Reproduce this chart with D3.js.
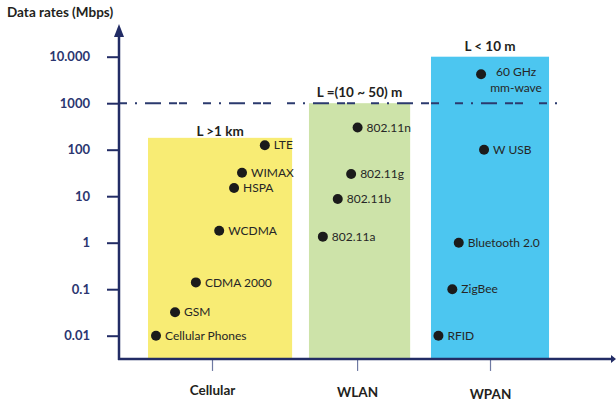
<!DOCTYPE html>
<html>
<head>
<meta charset="utf-8">
<script src="https://cdn.jsdelivr.net/npm/d3@7"></script>
<style>
body { margin: 0; background: #fff; }
svg { display: block; font-family: Lato, "Open Sans", sans-serif; }
</style>
</head>
<body>
<div class="chart-container"></div>
<script>
// data
const categories = ['Cellular', 'WLAN', 'WPAN'];
const rangeLabels = ['L >1 km', 'L =(10 ~ 50) m', 'L < 10 m'];
const barTops = [180, 1000, 10000];

const yTicks = [0.01, 0.1, 1, 10, 100, 1000, 10000];
const yTickLabels = ['0.01', '0.1', '1', '10', '100', '1000', '10.000'];

const cellularTech = ['Cellular Phones', 'GSM', 'CDMA 2000', 'WCDMA', 'HSPA', 'WIMAX', 'LTE'];
const cellularRates = [0.01, 0.032, 0.14, 1.8, 15, 32, 125];
const wlanTech = ['802.11a', '802.11b', '802.11g', '802.11n'];
const wlanRates = [1.35, 8.7, 30, 300];
const wpanTech = ['RFID', 'ZigBee', 'Bluetooth 2.0', 'W USB', '60 GHz\nmm-wave'];
const wpanRates = [0.01, 0.1, 1, 100, 4200];
const limitRate = 1000;

// layout: horizontal positions in axis units (0..10)
const catX = [1.875, 4.8, 7.48];
const barSpan = [[0.585, 3.49], [3.83, 5.87], [6.29, 8.67]];
const cellularX = [0.746, 1.13, 1.55, 2.02, 2.32, 2.48, 2.94];
const wlanX = [4.11, 4.41, 4.68, 4.81];
const wpanX = [6.44, 6.72, 6.85, 7.36, 7.30];
const titleGap = [2, 6, 6];
const catLabelDy = [0, 2, 4];
const barColors = ['#f8ec74', '#cde3a9', '#4cc6f0'];

const navy = '#222c65';
const totalWidth = 616;
const totalHeight = 400;

const svg = d3.select('.chart-container')
    .append('svg')
    .attr('width', totalWidth)
    .attr('height', totalHeight);

const x = d3.scaleLinear().domain([0, 10]).range([119, 615]);
const y = d3.scaleLog().domain([0.01, 10000]).range([335.7, 56.7]);
const yBase = y(Math.pow(10, -2.5));

// bars
svg.append('g').selectAll('rect')
    .data(categories)
    .enter()
    .append('rect')
    .attr('x', (d, i) => x(barSpan[i][0]))
    .attr('width', (d, i) => x(barSpan[i][1]) - x(barSpan[i][0]))
    .attr('y', (d, i) => y(barTops[i]))
    .attr('height', (d, i) => yBase - y(barTops[i]))
    .attr('fill', (d, i) => barColors[i]);

// range titles above bars
svg.append('g').selectAll('text')
    .data(rangeLabels)
    .enter()
    .append('text')
    .attr('x', (d, i) => (x(barSpan[i][0]) + x(barSpan[i][1])) / 2)
    .attr('y', (d, i) => y(barTops[i]) - titleGap[i])
    .attr('text-anchor', 'middle')
    .attr('font-size', 13.5)
    .attr('font-weight', 700)
    .attr('fill', '#231f20')
    .text(d => d);

// y axis
const yAxis = svg.append('g')
    .attr('transform', 'translate(119,0)')
    .call(d3.axisLeft(y)
        .tickValues(yTicks)
        .tickFormat((d, i) => yTickLabels[i])
        .tickSize(12)
        .tickSizeOuter(0)
        .tickPadding(17));
yAxis.select('.domain').remove();
yAxis.selectAll('.tick line').attr('stroke', navy).attr('stroke-width', 2);
yAxis.selectAll('.tick text')
    .attr('fill', '#2b3670')
    .attr('font-size', 13)
    .attr('font-weight', 700)
    .attr('font-family', 'Lato, sans-serif');

// dash-dot limit line
svg.append('line')
    .attr('x1', 119)
    .attr('x2', 562)
    .attr('y1', y(limitRate))
    .attr('y2', y(limitRate))
    .attr('stroke', '#2b3a6e')
    .attr('stroke-width', 2)
    .attr('stroke-dasharray', '8,8,2,8,16');

// x axis ticks and labels
const xAxis = svg.append('g')
    .attr('transform', `translate(0,${yBase})`)
    .call(d3.axisBottom(x)
        .tickValues(catX)
        .tickFormat((d, i) => categories[i])
        .tickSize(12)
        .tickSizeOuter(0)
        .tickPadding(18));
xAxis.select('.domain').remove();
xAxis.selectAll('.tick line').attr('stroke', '#6f7aa3').attr('stroke-width', 1.2);
xAxis.selectAll('.tick text')
    .attr('dy', (d, i) => 6 + catLabelDy[i])
    .attr('fill', '#231f20')
    .attr('font-size', 13.5)
    .attr('font-weight', 700)
    .attr('font-family', 'Lato, sans-serif');

// axis lines with arrows
svg.append('line')
    .attr('x1', 119).attr('x2', 119)
    .attr('y1', yBase + 1).attr('y2', 34)
    .attr('stroke', navy).attr('stroke-width', 2.5);
svg.append('path')
    .attr('d', `M119,24 L124,37 L114,37 Z`)
    .attr('fill', navy);
svg.append('line')
    .attr('x1', 118).attr('x2', 612)
    .attr('y1', yBase).attr('y2', yBase)
    .attr('stroke', navy).attr('stroke-width', 2.5);
svg.append('path')
    .attr('d', `M616,${yBase} L611,${yBase - 4} L611,${yBase + 4} Z`)
    .attr('fill', navy);

// y axis title
svg.append('text')
    .attr('x', 7)
    .attr('y', 17)
    .attr('font-size', 13.5)
    .attr('font-weight', 700)
    .attr('fill', '#231f20')
    .text('Data rates (Mbps)');

// technology points
const groups = [
    {tech: cellularTech, rates: cellularRates, xs: cellularX},
    {tech: wlanTech, rates: wlanRates, xs: wlanX},
    {tech: wpanTech, rates: wpanRates, xs: wpanX}
];
const points = groups.flatMap(g => g.tech.map((t, i) => ({name: t, rate: g.rates[i], pos: g.xs[i]})));

const pt = svg.append('g').selectAll('g')
    .data(points)
    .enter()
    .append('g')
    .attr('transform', d => `translate(${x(d.pos)},${y(d.rate)})`);

pt.append('circle')
    .attr('r', 5)
    .attr('fill', '#1b1b1b');

pt.each(function(d) {
    const lines = d.name.split('\n');
    const t = d3.select(this).append('text')
        .attr('font-size', 12)
        .attr('fill', '#262626');
    if (lines.length > 1) {
        t.attr('text-anchor', 'middle');
        lines.forEach((l, i) => {
            t.append('tspan')
                .attr('x', 35)
                .attr('y', -2 + i * 16)
                .attr('dy', '0.35em')
                .text(l);
        });
    } else {
        t.attr('x', 9).attr('dy', '0.35em').text(d.name);
    }
});
</script>
</body>
</html>
